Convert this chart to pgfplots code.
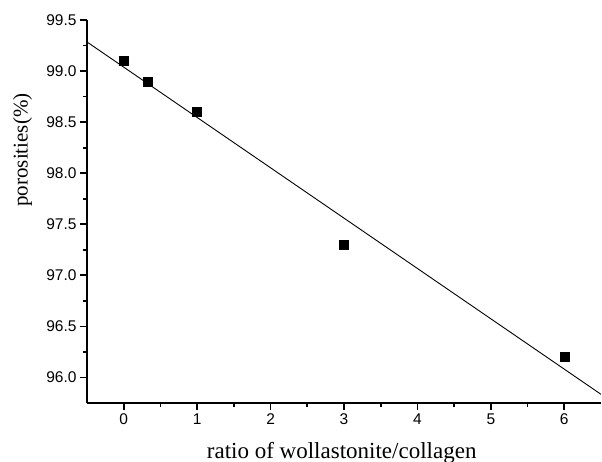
\documentclass[border=0pt]{standalone}
\usepackage{pgfplots}
\pgfplotsset{compat=1.18}
\usepackage{fontspec}
\setmainfont{Liberation Serif}
\newfontfamily\arial{Liberation Sans}

\begin{document}
\begin{tikzpicture}
\useasboundingbox (0,0) rectangle (602pt,461pt);
\begin{axis}[
    at={(87pt,58pt)}, anchor=south west,
    width=514pt, height=383pt, scale only axis,
    xmin=-0.5, xmax=6.5, ymin=95.75, ymax=99.5,
    axis x line*=bottom, axis y line*=left,
    axis line style={line width=2pt},
    xtick={0,1,2,3,4,5,6},
    ytick={96,96.5,97,97.5,98,98.5,99,99.5},
    minor tick num=1,
    tick align=outside,
    major tick length=7pt, minor tick length=4pt,
    every tick/.style={black, line width=1.8pt},
    yticklabel style={/pgf/number format/.cd, fixed, fixed zerofill, precision=1},
    /pgf/number format/assume math mode=true,
    ticklabel style={font=\arial\fontsize{15.5}{17}\selectfont},
    xlabel={ratio of wollastonite/collagen},
    ylabel={porosities(\%)},
    xlabel style={font=\fontsize{23}{26}\selectfont, at={(axis description cs:0.4955,-0.1436)}, anchor=base},
    ylabel style={font=\fontsize{21}{24}\selectfont, at={(axis description cs:-0.1255,0.6606)}, anchor=center},
]
\addplot[black, line width=0.9pt] coordinates {(-0.5,99.285)(6.5,95.835)};
\addplot[only marks, mark=square*, mark size=4.5pt, black] coordinates {
(0,99.1)(0.333,98.9)(1,98.6)(3,97.3)(6,96.2)};
\end{axis}
\end{tikzpicture}
\end{document}
